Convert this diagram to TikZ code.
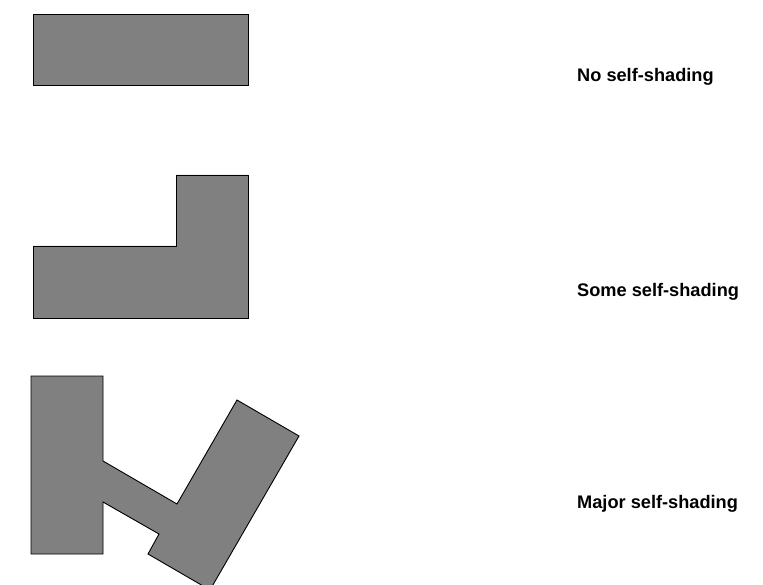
\documentclass[tikz,border=0pt]{standalone}
\usepackage{fontspec}
\setmainfont{Liberation Sans}
\begin{document}
\begin{tikzpicture}[x=1pt,y=-1pt,
  shapefill/.style={fill={rgb,255:red,128;green,128;blue,128},draw=black,line width=0.9pt,line join=miter},
  caption/.style={anchor=base west,inner sep=0pt,font=\fontsize{18.2}{21}\selectfont\bfseries}]
\useasboundingbox (0,0) rectangle (763,585);
\clip (0,0) rectangle (763,585);
\draw[shapefill] (33,14) rectangle (248,85);
\draw[shapefill] (33,246) -- (176,246) -- (176,175) -- (248,175) -- (248,318) -- (33,318) -- cycle;
\draw[shapefill] (31,376) -- (103,376) -- (103,461) -- (177,504) -- (237,400) -- (299,436) -- (210,590) -- (148,554) -- (159,534) -- (103,502) -- (103,554) -- (31,554) -- cycle;
\node[caption] (t1) at (577,82) {No self-shading};
\node[caption] (t2) at (577,297) {Some self-shading};
\node[caption] (t3) at (577,508) {Major self-shading};
\end{tikzpicture}
\end{document}
